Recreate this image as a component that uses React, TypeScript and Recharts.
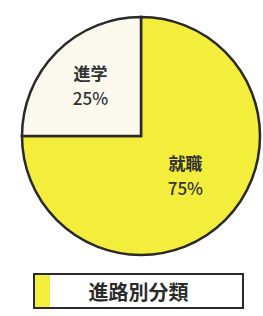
import React from 'react';
import { PieChart, Pie, Cell, Legend } from 'recharts';

const categories = ['就職', '進学'];
const shares = [75, 25];
const legendTitle = '進路別分類';

const colors = ['#F3ED3C', '#FBF8EE'];
const FONT = '"Noto Sans CJK JP", "Noto Sans", sans-serif';

const data = categories.map((name, i) => ({ name, value: shares[i] }));

// label spots differ a bit per slice in the original print
const labelOffset: Record<number, { r: number; dx: number; dy: number }> = {
  0: { r: 0.48, dx: 4, dy: 0 },
  1: { r: 0.6, dx: 0, dy: 0 },
};

const renderLabel = (props: any) => {
  const { cx, cy, midAngle, outerRadius, index, name, value } = props;
  const RAD = Math.PI / 180;
  const o = labelOffset[index] || { r: 0.5, dx: 0, dy: 0 };
  const r = outerRadius * o.r;
  const x = cx + r * Math.cos(-midAngle * RAD) + o.dx;
  const y = cy + r * Math.sin(-midAngle * RAD) + o.dy;
  return (
    <text x={x} y={y} textAnchor="middle" fill="#333" fontFamily={FONT} fontWeight={700} fontSize={17}>
      <tspan x={x} dy={-6}>{name}</tspan>
      <tspan x={x} dy={25} fontWeight={500}>{`${value}%`}</tspan>
    </text>
  );
};

const LegendBox: React.FC<any> = () => (
  <div
    style={{
      width: 207,
      height: 32,
      border: '2px solid #2b2b2b',
      background: '#fff',
      display: 'flex',
      alignItems: 'center',
      position: 'relative',
      fontFamily: FONT,
    }}
  >
    <div style={{ width: 15, height: '100%', background: colors[0] }} />
    <div style={{ flex: 1, textAlign: 'center', fontSize: 20, fontWeight: 700, color: '#2b2b2b', paddingRight: 15 }}>
      {legendTitle}
    </div>
  </div>
);

export default function App() {
  return (
    <div style={{ position: 'absolute', left: 0, top: 0, width: 263, height: 316, background: '#fff' }}>
      <PieChart width={263} height={316}>
        <Pie
          data={data}
          dataKey="value"
          nameKey="name"
          cx={136}
          cy={131}
          outerRadius={119}
          startAngle={90}
          endAngle={-270}
          stroke="#2a2a2a"
          strokeWidth={2.5}
          label={renderLabel}
          labelLine={false}
          isAnimationActive={false}
        >
          {data.map((d, i) => (
            <Cell key={d.name} fill={colors[i]} />
          ))}
        </Pie>
        <Legend
          content={<LegendBox />}
          wrapperStyle={{ position: 'absolute', left: 33, top: 273, width: 211, height: 36 }}
        />
      </PieChart>
    </div>
  );
}
